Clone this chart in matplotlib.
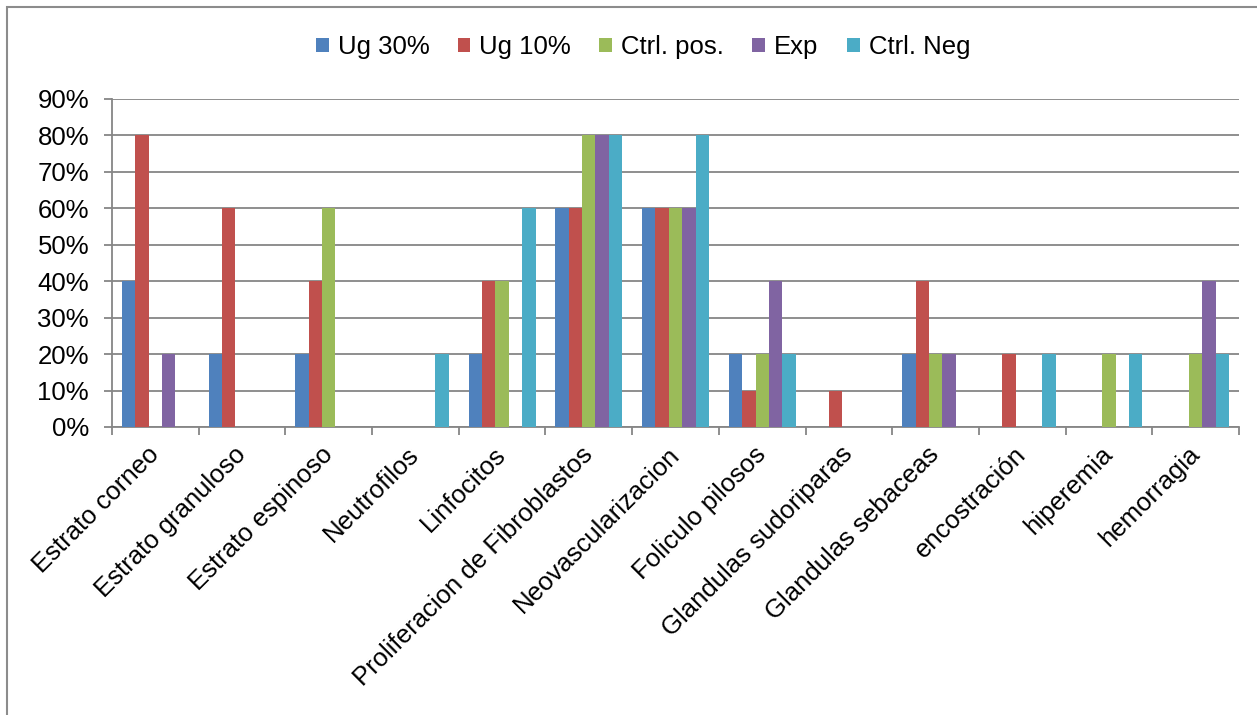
import numpy as np
import matplotlib.pyplot as plt
from matplotlib.patches import Rectangle
from matplotlib.ticker import MultipleLocator, PercentFormatter

plt.rcParams['font.family'] = ['Liberation Sans', 'DejaVu Sans']

categories = ['Estrato corneo', 'Estrato granuloso', 'Estrato espinoso',
              'Neutrofilos', 'Linfocitos', 'Proliferacion de Fibroblastos',
              'Neovascularizacion', 'Foliculo pilosos', 'Glandulas sudoriparas',
              'Glandulas sebaceas', 'encostración', 'hiperemia', 'hemorragia']

series_names = ['Ug 30%', 'Ug 10%', 'Ctrl. pos.', 'Exp', 'Ctrl. Neg']
ug30 = [40, 20, 20, 0, 20, 60, 60, 20, 0, 20, 0, 0, 0]
ug10 = [80, 60, 40, 0, 40, 60, 60, 10, 10, 40, 20, 0, 0]
ctrl_pos = [0, 0, 60, 0, 40, 80, 60, 20, 0, 20, 0, 20, 20]
exp = [20, 0, 0, 0, 0, 80, 60, 40, 0, 20, 0, 0, 40]
ctrl_neg = [0, 0, 0, 20, 60, 80, 80, 20, 0, 0, 20, 20, 20]
colors = ['#4F81BD', '#C0504D', '#9BBB59', '#8064A2', '#4BACC6']

FS = 18.5
GRID = '#868686'

fig = plt.figure(figsize=(12.57, 7.15), dpi=100)
ax = fig.add_axes([0.0891, 0.4028, 0.8966, 0.4594])

# chart-area frame
fig.patches.append(Rectangle((7 / 1257, -0.05), 1.2, 1 - 7 / 715 + 0.05,
                             transform=fig.transFigure, fill=False,
                             edgecolor='#8C8C8C', lw=1.5))

x = np.arange(len(categories))
bw = 0.154
for k, (vals, name, c) in enumerate(zip([ug30, ug10, ctrl_pos, exp, ctrl_neg],
                                         series_names, colors)):
    ax.bar(x + (k - 2) * bw, vals, width=bw, color=c, label=name, zorder=3)

ax.set_xlim(-0.5, len(categories) - 0.5)
ax.set_ylim(0, 90)
ax.yaxis.set_major_locator(MultipleLocator(10))
ax.yaxis.set_major_formatter(PercentFormatter(decimals=0))
ax.grid(axis='y', color=GRID, lw=1.3, zorder=0)
ax.tick_params(axis='y', length=6, width=1.3, color=GRID,
               labelsize=FS, pad=10.5)

ax.set_xticks(x)
ax.set_xticklabels(categories, rotation=45, ha='right', va='center',
                   rotation_mode='anchor', fontsize=FS)
ax.tick_params(axis='x', length=0, pad=17)
ax.set_xticks(np.arange(len(categories) + 1) - 0.5, minor=True)
ax.tick_params(axis='x', which='minor', length=6, width=1.3, color=GRID)

for side in ['top', 'right']:
    ax.spines[side].set_visible(False)
for side in ['left', 'bottom']:
    ax.spines[side].set_color(GRID)
    ax.spines[side].set_linewidth(1.3)

fig.legend(loc='center', bbox_to_anchor=(643 / 1257, 1 - 47 / 715), ncol=5,
           frameon=False, fontsize=FS, handlelength=0.5, handleheight=0.5,
           handletextpad=0.35, columnspacing=1.1)

fig.savefig('out.png', dpi=100)
